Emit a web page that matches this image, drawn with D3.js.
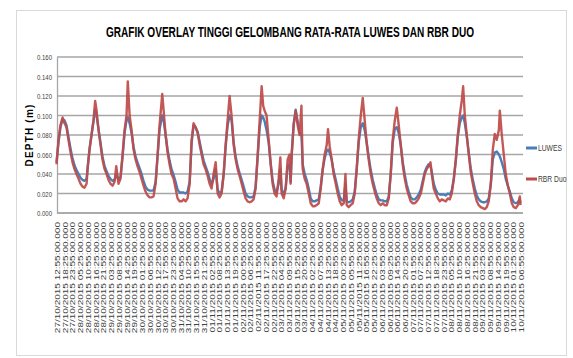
<!DOCTYPE html>
<html>
<head>
<meta charset="utf-8">
<script src="https://cdn.jsdelivr.net/npm/d3@7/dist/d3.min.js"></script>
<style>
  body { margin: 0; background: #fff; }
  text { font-family: Arial, "Liberation Sans", sans-serif; }
</style>
</head>
<body>
<script>
// hours since 27/10/2015 12:55
const hours = [
  0, 1.4, 2.8, 4.3, 5.7, 7.1, 8.5, 10.0, 11.4, 12.8, 14.2, 15.7, 17.1, 18.5, 19.9, 21.4, 22.1, 23.5, 24.9, 26.3,
  27.5, 28.5, 29.9, 31.3, 32.7, 34.2, 35.6, 37.0, 38.4, 39.9, 41.3, 42.5, 44.1, 45.5, 47.0, 48.4, 49.8, 50.7, 52.0, 53.4,
  54.8, 56.2, 57.6, 59.1, 60.5, 61.9, 63.3, 64.8, 66.2, 67.6, 69.0, 70.5, 71.9, 73.3, 75.2, 76.2, 77.6, 79.0, 80.4, 81.8,
  83.3, 84.7, 86.1, 87.5, 89.0, 90.4, 91.8, 93.2, 94.7, 96.1, 97.5, 98.9, 100.4, 101.8, 103.2, 104.6, 106.0, 107.5, 108.9, 110.3,
  111.7, 113.2, 114.6, 116.0, 117.4, 118.9, 120.3, 121.7, 123.1, 124.5, 126.0, 127.4, 128.8, 130.2, 131.7, 133.1, 134.5, 135.9, 137.4, 138.8,
  140.2, 141.6, 143.1, 144.5, 145.9, 147.0, 148.0, 149.4, 150.9, 152.3, 153.7, 155.1, 156.5, 158.0, 159.2, 160.1, 161.6, 163.0, 164.4, 165.8,
  166.5, 167.3, 168.7, 170.1, 171.5, 172.9, 174.2, 175.1, 176.5, 177.9, 179.4, 180.8, 182.2, 183.6, 185.0, 186.5, 187.9, 189.3, 190.7, 192.2,
  193.1, 194.3, 195.7, 197.1, 198.6, 200.0, 201.4, 202.8, 204.3, 205.5, 206.4, 207.8, 209.2, 210.7, 212.1, 213.5, 214.9, 216.4, 217.8, 219.2,
  220.6, 222.0, 223.5, 224.9, 226.3, 227.7, 229.2, 230.6, 232.0, 233.4, 234.9, 236.3, 237.7, 239.1, 240.6, 242.0, 243.4, 244.8, 246.2, 247.7,
  249.1, 250.5, 251.9, 253.4, 254.8, 256.2, 257.6, 259.1, 260.5, 261.9, 263.3, 264.7, 266.0, 266.9, 268.3, 269.7, 271.2, 272.6, 274.0, 275.4,
  276.9, 278.3, 279.7, 281.1, 282.6, 284.0, 285.4, 286.8, 288.2, 289.2, 290.4, 291.8, 293.2, 294.6, 296.1, 297.5, 298.9, 300.3, 301.7, 303.2,
  304.6, 306.0, 307.4, 308.9, 310.3, 311.7, 313.1, 314.6, 315.3, 316.7, 318.1, 319.5, 321.0, 322.4, 323.8, 325.2, 326.7, 328.1, 329.5, 330.0
];

// RBR Duo depth (m)
const rbr = [
  .050, .075, .090, .098, .092, .088, .075, .062, .052, .045, .040, .035, .030, .027, .026, .030, .045, .065, .080, .095,
  .115, .105, .085, .070, .055, .045, .040, .034, .030, .028, .032, .048, .030, .035, .060, .085, .100, .135, .100, .085,
  .065, .055, .048, .042, .035, .028, .022, .018, .016, .016, .017, .030, .060, .090, .122, .105, .080, .062, .050, .040,
  .035, .025, .015, .012, .012, .014, .012, .015, .030, .075, .092, .088, .082, .070, .060, .050, .045, .038, .030, .025,
  .040, .052, .020, .016, .020, .040, .070, .095, .120, .100, .070, .055, .045, .038, .030, .022, .015, .012, .011, .012,
  .014, .025, .060, .095, .130, .110, .105, .100, .075, .050, .030, .020, .017, .035, .057, .020, .015, .025, .055, .060,
  .030, .060, .090, .105, .090, .080, .110, .045, .035, .030, .020, .010, .007, .007, .008, .010, .025, .045, .060, .070,
  .086, .068, .055, .040, .030, .020, .012, .008, .010, .040, .008, .006, .008, .010, .020, .045, .075, .100, .118, .095,
  .072, .055, .040, .030, .022, .015, .010, .008, .010, .008, .008, .015, .040, .075, .095, .108, .090, .070, .050, .035,
  .025, .018, .012, .010, .010, .012, .015, .020, .030, .040, .045, .048, .052, .040, .025, .020, .015, .012, .014, .013,
  .012, .015, .014, .020, .035, .055, .080, .100, .115, .130, .100, .080, .060, .042, .030, .020, .012, .008, .006, .005,
  .004, .006, .012, .030, .065, .081, .075, .085, .105, .080, .060, .040, .028, .020, .010, .006, .005, .008, .017, .008
];

// LUWES depth (m)
const luwes = [
  .052, .072, .088, .096, .095, .090, .078, .066, .056, .049, .044, .040, .036, .034, .033, .035, .046, .066, .080, .094,
  .106, .100, .086, .072, .058, .048, .043, .038, .035, .033, .034, .040, .034, .037, .058, .082, .095, .098, .092, .082,
  .068, .058, .052, .046, .040, .033, .027, .024, .023, .023, .023, .032, .058, .086, .100, .095, .080, .065, .054, .045,
  .039, .032, .024, .021, .021, .021, .020, .022, .032, .072, .090, .088, .083, .073, .063, .054, .048, .042, .035, .029,
  .035, .045, .024, .020, .022, .040, .068, .090, .100, .095, .072, .058, .048, .041, .034, .027, .020, .017, .016, .016,
  .017, .027, .058, .088, .100, .098, .094, .085, .072, .052, .033, .024, .021, .030, .045, .024, .019, .026, .048, .050,
  .032, .062, .092, .106, .094, .082, .080, .050, .040, .034, .025, .015, .012, .012, .013, .014, .027, .044, .056, .064,
  .065, .062, .055, .043, .034, .025, .017, .013, .013, .030, .012, .011, .012, .014, .022, .045, .072, .088, .092, .085,
  .072, .058, .044, .034, .026, .019, .014, .013, .013, .012, .012, .017, .040, .072, .086, .088, .082, .070, .053, .039,
  .029, .022, .016, .014, .014, .016, .019, .024, .033, .042, .047, .050, .048, .042, .030, .024, .020, .019, .019, .019,
  .018, .020, .019, .023, .036, .054, .078, .092, .098, .100, .092, .078, .062, .046, .034, .025, .018, .014, .012, .011,
  .011, .012, .015, .030, .055, .062, .063, .060, .058, .052, .045, .035, .028, .022, .015, .011, .010, .011, .014, .010
];

const yTicks = [0, 0.02, 0.04, 0.06, 0.08, 0.1, 0.12, 0.14, 0.16];

const xLabels = [
  "27/10/2015 12:55:00.000", "27/10/2015 18:25:00.000", "27/10/2015 23:55:00.000", "28/10/2015 05:25:00.000",
  "28/10/2015 10:55:00.000", "28/10/2015 16:25:00.000", "28/10/2015 21:55:00.000", "29/10/2015 03:25:00.000",
  "29/10/2015 08:55:00.000", "29/10/2015 14:25:00.000", "29/10/2015 19:55:00.000", "30/10/2015 01:25:00.000",
  "30/10/2015 06:55:00.000", "30/10/2015 12:25:00.000", "30/10/2015 17:55:00.000", "30/10/2015 23:25:00.000",
  "31/10/2015 04:55:00.000", "31/10/2015 10:25:00.000", "31/10/2015 15:55:00.000", "31/10/2015 21:25:00.000",
  "01/11/2015 02:55:00.000", "01/11/2015 08:25:00.000", "01/11/2015 13:55:00.000", "01/11/2015 19:25:00.000",
  "02/11/2015 00:55:00.000", "02/11/2015 06:25:00.000", "02/11/2015 11:55:00.000", "02/11/2015 17:25:00.000",
  "02/11/2015 22:55:00.000", "03/11/2015 04:25:00.000", "03/11/2015 09:55:00.000", "03/11/2015 15:25:00.000",
  "03/11/2015 20:55:00.000", "04/11/2015 02:25:00.000", "04/11/2015 07:55:00.000", "04/11/2015 13:25:00.000",
  "04/11/2015 18:55:00.000", "05/11/2015 00:25:00.000", "05/11/2015 05:55:00.000", "05/11/2015 11:25:00.000",
  "05/11/2015 16:55:00.000", "05/11/2015 22:25:00.000", "06/11/2015 03:55:00.000", "06/11/2015 09:25:00.000",
  "06/11/2015 14:55:00.000", "06/11/2015 20:25:00.000", "07/11/2015 01:55:00.000", "07/11/2015 07:25:00.000",
  "07/11/2015 12:55:00.000", "07/11/2015 18:25:00.000", "07/11/2015 23:55:00.000", "08/11/2015 05:25:00.000",
  "08/11/2015 10:55:00.000", "08/11/2015 16:25:00.000", "08/11/2015 21:55:00.000", "09/11/2015 03:25:00.000",
  "09/11/2015 08:55:00.000", "09/11/2015 14:25:00.000", "09/11/2015 19:55:00.000", "10/11/2015 01:25:00.000",
  "10/11/2015 06:55:00.000"
];
const labelStep = 5.5; // hours between x labels

const W = 573, H = 358;
const plot = { left: 57, right: 523, top: 57, bottom: 213 };

const svg = d3.select("body")
  .append("svg")
  .attr("width", W)
  .attr("height", H);

// chart border
svg.append("rect")
  .attr("x", 16.5).attr("y", 10.5)
  .attr("width", 550).attr("height", 345)
  .attr("fill", "none")
  .attr("stroke", "#d9d9d9");

const x = d3.scaleLinear()
  .domain([0, 330])
  .range([56.5, 520.5]);

const y = d3.scaleLinear()
  .domain([0, 0.16])
  .range([plot.bottom, plot.top]);

// gridlines
svg.append("g")
  .selectAll("line")
  .data(yTicks)
  .join("line")
  .attr("x1", plot.left).attr("x2", plot.right)
  .attr("y1", d => y(d)).attr("y2", d => y(d))
  .attr("stroke", "#a6a6a6")
  .attr("stroke-width", 1.3);

// y axis
const yAxis = svg.append("g")
  .attr("transform", `translate(${plot.left},0)`)
  .call(d3.axisLeft(y).tickValues(yTicks).tickFormat(d3.format(".3f")).tickSize(0).tickPadding(5));
yAxis.select(".domain").attr("stroke", "#a6a6a6").attr("stroke-width", 1.3);
yAxis.selectAll(".tick text")
  .attr("font-size", 8)
  .attr("fill", "#404040")
  .attr("x", 0)
  .attr("transform", "translate(-5,0) scale(0.75,1)");

// x axis
const xAxis = svg.append("g")
  .attr("transform", `translate(0,${plot.bottom})`)
  .call(d3.axisBottom(x)
    .tickValues(xLabels.map((d, i) => i * labelStep))
    .tickFormat((d, i) => xLabels[i])
    .tickSize(0));
xAxis.select(".domain").attr("stroke", "#a6a6a6").attr("stroke-width", 1.3)
  .attr("d", `M${plot.left},0H${plot.right}`);
xAxis.selectAll(".tick text")
  .attr("font-size", 10)
  .attr("fill", "#404040")
  .attr("text-anchor", "end")
  .attr("dy", null)
  .attr("y", 0)
  .attr("transform", "translate(3,9) scale(0.7,1) rotate(-90)");

// series
const line = (vals) => d3.line()
  .x((d, i) => x(hours[i]))
  .y(d => y(d))(vals);

svg.append("path")
  .attr("d", line(luwes))
  .attr("fill", "none")
  .attr("stroke", "#4a7ebb")
  .attr("stroke-width", 2.4)
  .attr("stroke-linejoin", "round");

svg.append("path")
  .attr("d", line(rbr))
  .attr("fill", "none")
  .attr("stroke", "#be4b48")
  .attr("stroke-width", 2.4)
  .attr("stroke-opacity", 0.92)
  .attr("stroke-linejoin", "round");

// title
svg.append("text")
  .attr("transform", "translate(290,37) scale(0.72,1)")
  .attr("text-anchor", "middle")
  .attr("font-size", 14)
  .attr("font-weight", "bold")
  .attr("fill", "#000")
  .text("GRAFIK OVERLAY TINGGI GELOMBANG RATA-RATA LUWES DAN RBR DUO");

// y axis title
svg.append("text")
  .attr("transform", "translate(33,135) rotate(-90)")
  .attr("text-anchor", "middle")
  .attr("font-size", 10)
  .attr("font-weight", "bold")
  .attr("letter-spacing", 1.2)
  .attr("fill", "#000")
  .text("DEPTH (m)");

// legend
const legend = [
  { name: "LUWES", color: "#4a7ebb", y: 148 },
  { name: "RBR Duo", color: "#be4b48", y: 179 }
];
const lg = svg.append("g").selectAll("g").data(legend).join("g");
lg.append("line")
  .attr("x1", 526).attr("x2", 537)
  .attr("y1", d => d.y).attr("y2", d => d.y)
  .attr("stroke", d => d.color)
  .attr("stroke-width", 3);
lg.append("text")
  .attr("transform", d => `translate(538,${d.y + 3}) scale(0.75,1)`)
  .attr("font-size", 9)
  .attr("fill", "#404040")
  .text(d => d.name);
</script>
</body>
</html>
